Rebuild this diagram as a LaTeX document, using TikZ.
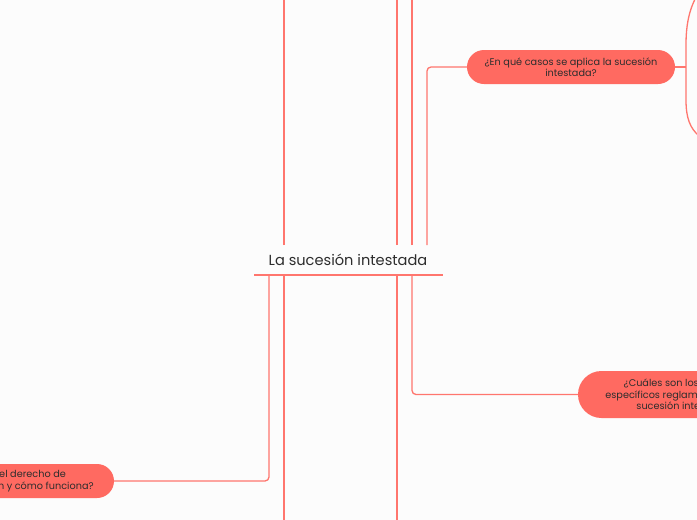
\documentclass[tikz,border=0pt]{standalone}
\usepackage{fontspec}
\setmainfont{Poppins}
\definecolor{bg}{RGB}{252,252,252}
\definecolor{nodec}{RGB}{255,106,97}
\definecolor{linec}{RGB}{255,118,110}
\definecolor{txt}{RGB}{45,45,45}
\begin{document}
\begin{tikzpicture}[x=1pt,y=-1pt,
  conn/.style={draw=linec, line width=1.3pt, rounded corners=4pt},
  pill/.style={fill=nodec, text=txt, font=\fontsize{9.7}{11.5}\selectfont, align=center, inner sep=0pt},
  titlestyle/.style={text=txt, font=\fontsize{14.6}{18}\selectfont, inner sep=0pt}]
\useasboundingbox (0,0) rectangle (697,520);
\fill[bg] (0,0) rectangle (697,520);
\clip (0,0) rectangle (697,520);

% central topic
\node[titlestyle] (title) at (348,260) {La sucesión intestada};
\coordinate (ul) at (254,275);
\coordinate (ur) at (443,275);
\draw[conn] (ul) -- (ur);

% nodes
\node[pill, minimum width=208pt, minimum height=34pt, rounded corners=17pt] (n1) at (571,67)
  {¿En qué casos se aplica la sucesión\\intestada?};
\node[pill, minimum width=214pt, minimum height=47pt, rounded corners=23.5pt] (n2) at (685,394.5)
  {¿Cuáles son los aspectos\\específicos reglamentados de la\\sucesión intestada?};
\node[pill, minimum width=204pt, minimum height=34pt, rounded corners=17pt] (n3) at (12,481)
  {¿Qué es el derecho de\\representación y cómo funciona?};

% free ends
\coordinate (t284) at (284,245); \coordinate (e284) at (284,-5);
\coordinate (t397) at (397,245); \coordinate (e397) at (397,-5);
\coordinate (t412) at (412,245); \coordinate (e412) at (412,-5);
\coordinate (t427) at (427,245);
\coordinate (b269) at (269,275);
\coordinate (b284) at (284,275); \coordinate (f284) at (284,525);
\coordinate (b397) at (397,275); \coordinate (f397) at (397,525);
\coordinate (b412) at (412,275);

% connectors above
\draw[conn] (t284) -- (e284);
\draw[conn] (t397) -- (e397);
\draw[conn] (t412) -- (e412);
\draw[conn] (t427) |- (n1.west);

% connectors below
\draw[conn] (b269) |- (n3.east);
\draw[conn] (b284) -- (f284);
\draw[conn] (b397) -- (f397);
\draw[conn] (b412) |- (n2.west);

% bracket to the right of n1
\coordinate (br) at (686,67);
\draw[conn] (n1.east) -- (br);
\draw[draw=linec, line width=1.3pt] (699,-8) .. controls (689,8) and (686,25) .. (686,45)
  -- (686,100) .. controls (686,118) and (690,128) .. (699,136);
\end{tikzpicture}
\end{document}
